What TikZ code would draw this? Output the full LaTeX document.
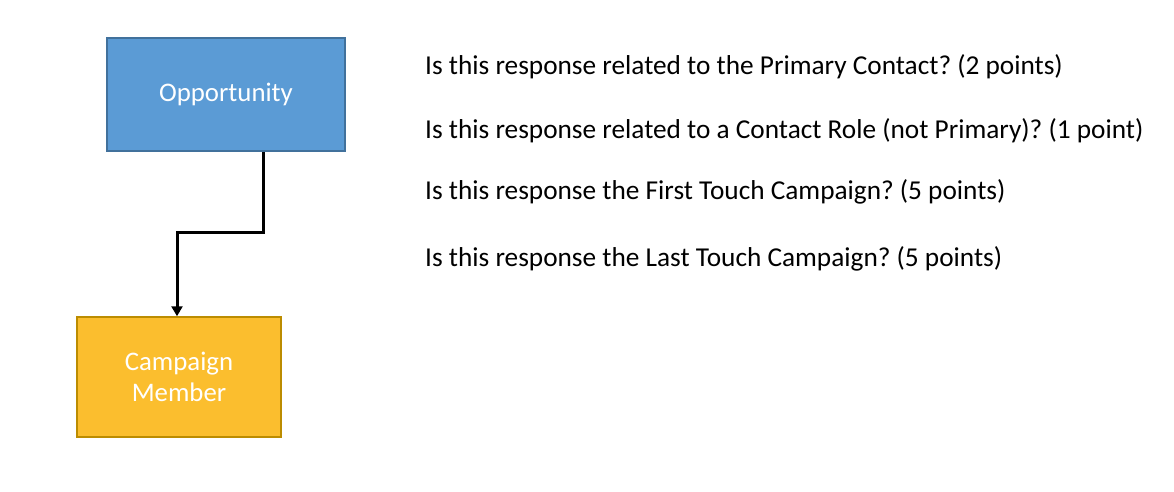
\documentclass[tikz,border=0pt]{standalone}
\usepackage{fontspec}
\setmainfont{Carlito}
\frenchspacing
\usetikzlibrary{arrows.meta}
\definecolor{oppfill}{HTML}{5B9BD5}
\definecolor{oppdraw}{HTML}{41719C}
\definecolor{cmfill}{HTML}{FBBE2E}
\definecolor{cmdraw}{HTML}{BC8C00}
\begin{document}
\begin{tikzpicture}[x=1pt,y=-1pt,
  box/.style={draw, line width=1.5pt, inner sep=0pt, text=white, align=center,
    font=\fontsize{26.8}{31}\selectfont},
  question/.style={anchor=west, inner sep=0pt, font=\fontsize{27.3}{31}\selectfont},
  conn/.style={line width=3pt, -{Triangle[length=10pt,width=11pt]}}]
\useasboundingbox (0,0) rectangle (1174,492);
\node[box, fill=oppfill, draw=oppdraw, minimum width=238pt, minimum height=113pt] (opp) at (226,94.5) {Opportunity};
\node[box, fill=cmfill, draw=cmdraw, minimum width=204pt, minimum height=120pt] (cm) at (179,377) {Campaign\\Member};
\coordinate (b1) at (263,232);
\coordinate (b2) at (177,232);
\draw[conn] (opp.south -| b1) -- (b1) -- (b2) -- (cm.north -| b2);
\node[question] (q1) at (425,67) {Is this response related to the Primary Contact? (2 points)};
\node[question] (q2) at (425,131) {Is this response related to a Contact Role (not Primary)? (1 point)};
\node[question] (q3) at (425,192) {Is this response the First Touch Campaign? (5 points)};
\node[question] (q4) at (425,259) {Is this response the Last Touch Campaign? (5 points)};
\end{tikzpicture}
\end{document}
